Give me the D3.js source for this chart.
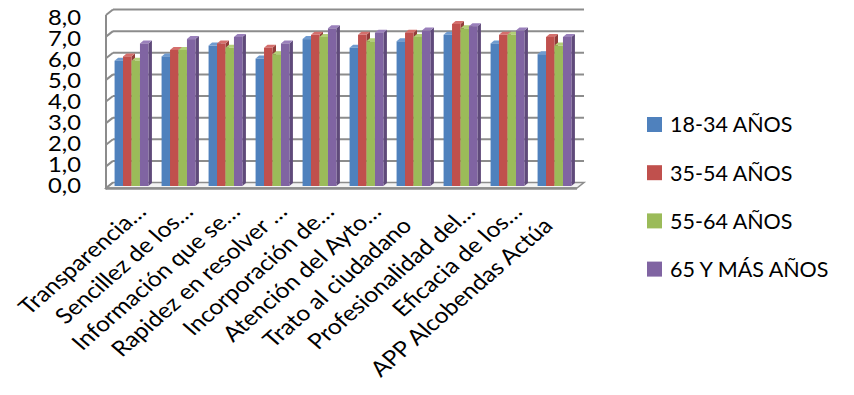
<!DOCTYPE html>
<html><head><meta charset="utf-8">
<script src="https://cdn.jsdelivr.net/npm/d3@7"></script>
<style>body{margin:0;background:#fff}svg{display:block}</style>
</head><body>
<svg id="c" width="854" height="395"></svg>
<script>
const categories = ["Transparencia…","Sencillez de los…","Información que se…","Rapidez en resolver …","Incorporación de…","Atención del Ayto…","Trato al ciudadano","Profesionalidad del…","Eficacia de los…","APP Alcobendas Actúa"];
const seriesNames = ["18-34 AÑOS","35-54 AÑOS","55-64 AÑOS","65 Y MÁS AÑOS"];
const s1834 = [5.8,6.0,6.5,5.9,6.8,6.4,6.7,7.0,6.6,6.1];
const s3554 = [6.0,6.3,6.6,6.4,7.0,7.0,7.1,7.5,7.0,6.9];
const s5564 = [5.8,6.3,6.4,6.1,6.9,6.7,6.9,7.3,7.0,6.5];
const s65 = [6.6,6.8,6.9,6.6,7.3,7.1,7.2,7.4,7.2,6.9];
const yTicks = [0,1,2,3,4,5,6,7,8];
const colors = ["#4F81BD","#C0504D","#9BBB59","#8064A2"];
const sideColors = ["#3a6291","#923c3a","#758d43","#5f4a7a"];
const topColors = ["#6f9bd0","#d46f6c","#b3cf78","#9a80bb"];
const seriesVals = [s1834,s3554,s5564,s65];

const svg = d3.select("#c");
const font = "Lato, 'Open Sans', sans-serif";
const DX = 7, DY = -5.5;       // wall depth
const bdx = 3.5, bdy = -3;     // bar depth

const yBack = d3.scaleLinear().domain([0,8]).range([182.5, 9.5]);
const yBar = d3.scaleLinear().domain([0,8]).range([186, 13.2]);
const yLab = d3.scaleLinear().domain([0,8]).range([193.2, 25.2]);
const x0 = d3.scaleBand().domain(categories).range([108,578]).paddingInner(0.28).paddingOuter(0.14);
const x1 = d3.scaleBand().domain(d3.range(4)).range([0, x0.bandwidth()]);

const wallL = 106, wallR = 577;
const grid = "#8c8c8c";
// floor
svg.append("path")
  .attr("d", `M${wallL},${yBack(0)-DY}L${wallR},${yBack(0)-DY}L${wallR+DX},${yBack(0)}L${wallL+DX},${yBack(0)}Z`)
  .attr("fill","#f4f4f4").attr("stroke",grid).attr("stroke-width",1.5);
svg.append("line").attr("x1",wallL).attr("x2",wallR).attr("y1",yBack(0)-DY+0.5).attr("y2",yBack(0)-DY+0.5)
  .attr("stroke",grid).attr("stroke-width",2.5);
// gridlines back wall + left wall diagonals
yTicks.forEach(t => {
  const yb = yBack(t);
  if (t>0) svg.append("line").attr("x1",wallL+DX).attr("x2",wallR+DX).attr("y1",yb).attr("y2",yb)
    .attr("stroke",grid).attr("stroke-width",2);
  svg.append("line").attr("x1",wallL).attr("y1",yb-DY).attr("x2",wallL+DX).attr("y2",yb)
    .attr("stroke",grid).attr("stroke-width",2);
});
// left wall front edge
svg.append("line").attr("x1",wallL).attr("x2",wallL).attr("y1",yBack(0)-DY+1.5).attr("y2",yBack(8)-DY)
  .attr("stroke",grid).attr("stroke-width",2);

// bars
categories.forEach((c,i) => {
  seriesVals.forEach((vals,s) => {
    const v = vals[i];
    const x = x0(c) + x1(s), w = x1.bandwidth();
    const yt = yBar(v), yb = yBar(0);
    const g = svg.append("g");
    g.append("path").attr("d",`M${x+w},${yt}L${x+w+bdx},${yt+bdy}L${x+w+bdx},${yb+bdy}L${x+w},${yb}Z`).attr("fill",sideColors[s]);
    g.append("path").attr("d",`M${x},${yt}L${x+bdx},${yt+bdy}L${x+w+bdx},${yt+bdy}L${x+w},${yt}Z`).attr("fill",topColors[s]);
    g.append("rect").attr("x",x).attr("y",yt).attr("width",w).attr("height",yb-yt).attr("fill",colors[s]);
  });
});

// y labels
svg.append("g").selectAll("text").data(yTicks).join("text")
  .attr("transform",d=>`translate(81,${yLab(d)}) scale(1.16,1)`)
  .attr("text-anchor","end")
  .attr("font-family",font).attr("font-size",20.5).attr("fill","#000")
  .text(d=>d.toFixed(1).replace(".",","));

// category labels
svg.append("g").selectAll("text").data(categories).join("text")
  .attr("transform",d=>`translate(${x0(d)+x0.bandwidth()/2+16},${213}) scale(1.15,1) rotate(-45)`)
  .attr("dx",d=>d.endsWith("…") ? 0 : -20)
  .attr("text-anchor","end").attr("font-family",font).attr("font-size",21.5).attr("fill","#000")
  .text(d=>d);

// legend
const leg = svg.append("g");
seriesNames.forEach((n,i) => {
  const cy = 124.5 + i*48.2;
  leg.append("rect").attr("x",647).attr("y",cy-7.5).attr("width",15).attr("height",15).attr("fill",colors[i]);
  leg.append("text").attr("x",670).attr("y",cy+7.8)
    .attr("font-family",font).attr("font-size",21.5).attr("fill","#000").text(n);
});
</script>
</body></html>
